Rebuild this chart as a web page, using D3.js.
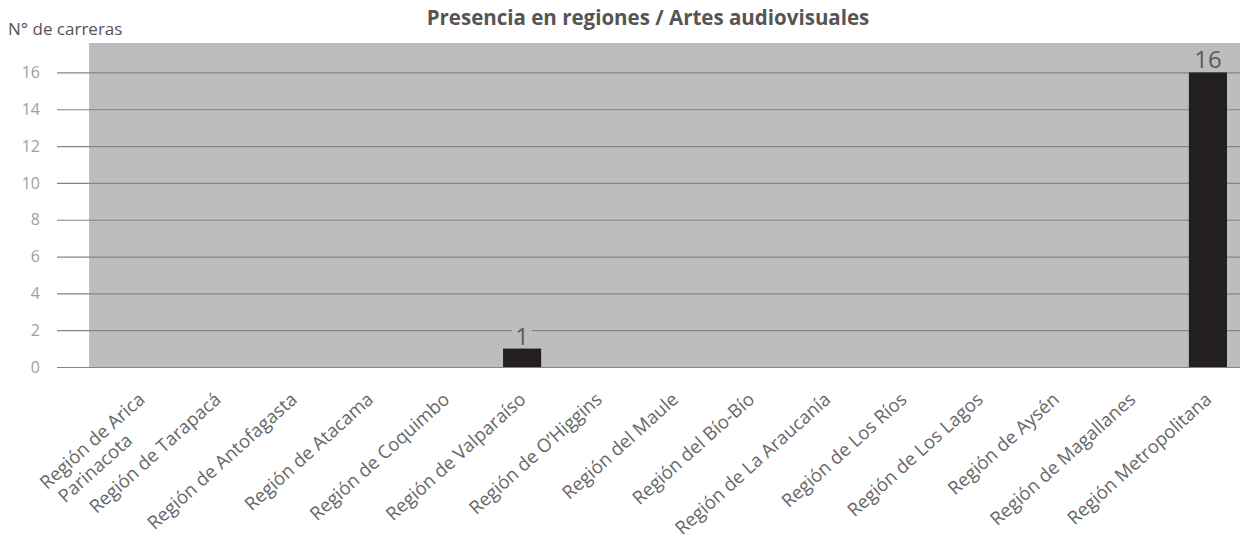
<!DOCTYPE html>
<html>
<head>
<meta charset="utf-8">
<script src="https://cdn.jsdelivr.net/npm/d3@7"></script>
<style>
  body { margin: 0; background: #fff; }
  text { font-family: "Open Sans", sans-serif; }
</style>
</head>
<body>
<div id="chart"></div>
<script>
const regions = [
  ["Región de Arica", "Parinacota"],
  ["Región de Tarapacá"],
  ["Región de Antofagasta"],
  ["Región de Atacama"],
  ["Región de Coquimbo"],
  ["Región de Valparaíso"],
  ["Región de O’Higgins"],
  ["Región del Maule"],
  ["Región del Bío-Bío"],
  ["Región de La Araucanía"],
  ["Región de Los Ríos"],
  ["Región de Los Lagos"],
  ["Región de Aysén"],
  ["Región de Magallanes"],
  ["Región Metropolitana"]
];
const carreras = [0, 0, 0, 0, 0, 1, 0, 0, 0, 0, 0, 0, 0, 0, 16];
const yTicks = [0, 2, 4, 6, 8, 10, 12, 14, 16];

const W = 1244, H = 551;
const plot = { left: 89, right: 1240, top: 43, bottom: 367 };

const svg = d3.select("#chart").append("svg")
  .attr("width", W).attr("height", H);

const y = d3.scaleLinear()
  .domain([0, 17.6])
  .range([plot.bottom, plot.top]);

const x = d3.scaleBand()
  .domain(d3.range(regions.length))
  .range([122, 1227])
  .paddingInner(0.5)
  .paddingOuter(0);

// plot background
svg.append("rect")
  .attr("x", plot.left).attr("y", plot.top)
  .attr("width", plot.right - plot.left)
  .attr("height", plot.bottom - plot.top)
  .attr("fill", "#bcbdbf");

// gridlines + y ticks
svg.append("g")
  .attr("transform", `translate(${plot.right}, 0)`)
  .call(d3.axisLeft(y).tickValues(yTicks).tickSize(plot.right - 57).tickPadding(17))
  .call(g => g.select(".domain").remove())
  .call(g => g.selectAll(".tick line").attr("stroke", "#858585").attr("stroke-width", 1.2))
  .call(g => g.selectAll(".tick text")
    .attr("fill", "#9e9e9e")
    .attr("font-size", 16)
    .style("font-family", "'Open Sans', sans-serif"));

// bars
svg.selectAll("rect.bar")
  .data(carreras)
  .join("rect")
  .attr("class", "bar")
  .attr("x", (d, i) => x(i))
  .attr("y", d => y(d))
  .attr("width", x.bandwidth())
  .attr("height", d => y(0) - y(d))
  .attr("fill", "#231f20");

// value labels
const labs = svg.selectAll("g.val")
  .data(carreras.map((v, i) => ({ v, i })).filter(d => d.v > 0))
  .join("g")
  .attr("class", "val");
labs.append("text")
  .attr("x", d => x(d.i) + x.bandwidth() / 2)
  .attr("y", d => y(d.v) - 4)
  .attr("text-anchor", "middle")
  .attr("font-size", 24)
  .attr("fill", "#5a5a5a")
  .text(d => d.v)
  .each(function() {
    const b = this.getBBox();
    d3.select(this.parentNode).insert("rect", "text")
      .attr("x", b.x - 3).attr("y", b.y + 4)
      .attr("width", b.width + 6).attr("height", b.height - 8)
      .attr("fill", "#bcbdbf");
  });

// x labels
const xl = svg.append("g").selectAll("text")
  .data(regions)
  .join("text")
  .attr("transform", (d, i) => `translate(${x(i) + x.bandwidth() / 2 + 5}, 401) rotate(-42)`)
  .attr("font-size", 18.5)
  .attr("fill", "#666")
  .attr("text-anchor", "end");
xl.each(function(lines) {
  const t = d3.select(this);
  const first = t.append("tspan").attr("x", 0).attr("dy", 0).text(lines[0]);
  if (lines.length > 1) {
    const len = first.node().getComputedTextLength();
    t.append("tspan")
      .attr("x", -len / 2 - 16)
      .attr("dy", "1.2em")
      .attr("text-anchor", "middle")
      .text(lines[1]);
  }
});

// titles
svg.append("text")
  .attr("x", 648).attr("y", 25)
  .attr("text-anchor", "middle")
  .attr("font-size", 20.5)
  .attr("font-weight", "bold")
  .attr("fill", "#555")
  .text("Presencia en regiones / Artes audiovisuales");

svg.append("text")
  .attr("x", 8).attr("y", 35)
  .attr("font-size", 17)
  .attr("fill", "#555")
  .text("N° de carreras");
</script>
</body>
</html>
